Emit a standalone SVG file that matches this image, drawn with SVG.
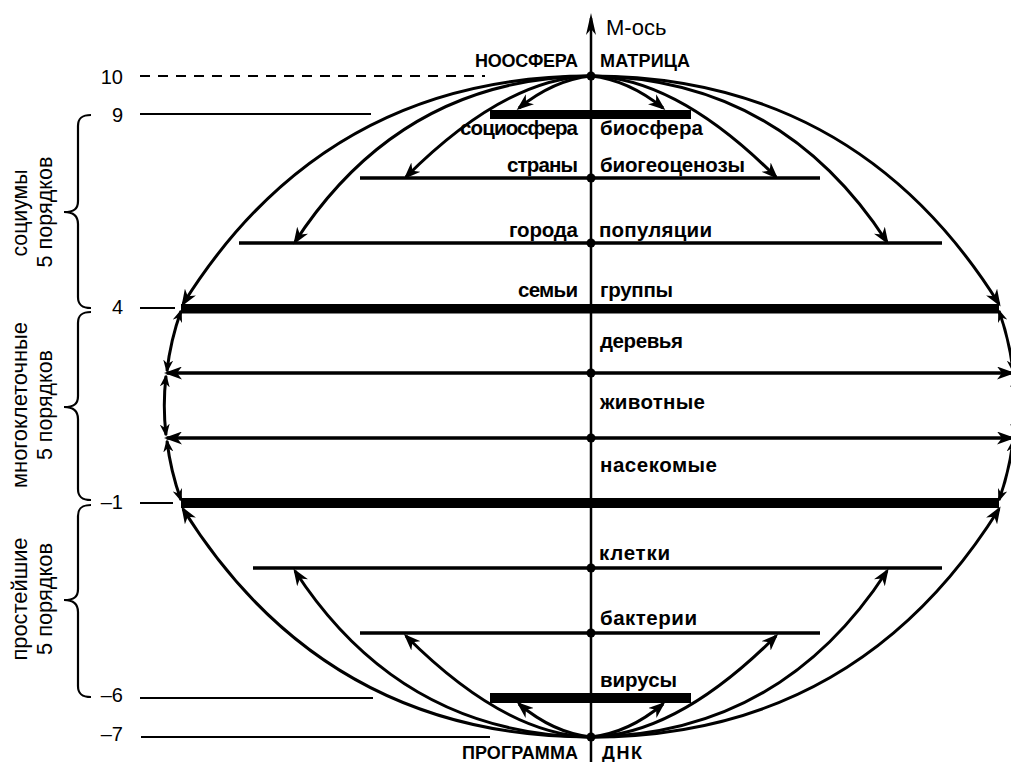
<svg xmlns="http://www.w3.org/2000/svg" width="1011" height="762" viewBox="0 0 1011 762">
<style>
.lbl{font-family:"Liberation Sans",Arial,sans-serif;font-weight:bold;font-size:20.5px;fill:#000}
.cap{font-family:"Liberation Sans",Arial,sans-serif;font-weight:bold;font-size:18px;fill:#000}
.num{font-family:"Liberation Sans",Arial,sans-serif;font-size:20px;fill:#000;text-anchor:end}
.side{font-family:"Liberation Sans",Arial,sans-serif;font-size:21.5px;fill:#000;text-anchor:middle}
.axis{font-family:"Liberation Sans",Arial,sans-serif;font-size:22px;fill:#000}
.tick{stroke:#000;stroke-width:2;fill:none}
.lvl{stroke:#000;stroke-width:3.5;fill:none}
.bar{fill:#000}
.crv{stroke:#000;stroke-width:3;fill:none;marker-end:url(#ah)}
.sd{stroke:#000;stroke-width:3;fill:none;marker-start:url(#ahs);marker-end:url(#ahs)}
.hz{stroke:#000;stroke-width:3.5;fill:none;marker-start:url(#ahh);marker-end:url(#ahh)}
.brace{stroke:#000;stroke-width:2.2;fill:none}
.dot{fill:#000}
</style>
<defs>
<marker id="ah" viewBox="0 0 17 13" markerWidth="17" markerHeight="13" refX="14" refY="6.5" orient="auto" markerUnits="userSpaceOnUse"><path d="M0,0 L17,6.5 L0,13 L5,6.5 Z" fill="#000"/></marker>
<marker id="ahh" viewBox="0 0 18 13" markerWidth="18" markerHeight="13" refX="15" refY="6.5" orient="auto-start-reverse" markerUnits="userSpaceOnUse"><path d="M0,0 L18,6.5 L0,13 L5,6.5 Z" fill="#000"/></marker>
<marker id="ahs" viewBox="0 0 13 10" markerWidth="13" markerHeight="10" refX="11" refY="5" orient="auto-start-reverse" markerUnits="userSpaceOnUse"><path d="M0,0 L13,5 L0,10 L4,5 Z" fill="#000"/></marker>
<marker id="axh" viewBox="0 0 22 10" markerWidth="22" markerHeight="10" refX="17" refY="5" orient="auto" markerUnits="userSpaceOnUse"><path d="M0,0 L22,5 L0,10 L6,5 Z" fill="#000"/></marker>
</defs>
<rect width="1011" height="762" fill="#fff"/>

<g id="connectors">
<path class="crv" d="M591,76 Q325.5,76 183,304"/>
<path class="crv" d="M591,76 Q401.5,78 295,242"/>
<path class="crv" d="M591,76 Q505,78 406,177"/>
<path class="crv" d="M591,76 Q553.6,80 519,108"/>
<path class="crv" d="M591,76 Q856.5,76 999,304"/>
<path class="crv" d="M591,76 Q780.5,78 887,242"/>
<path class="crv" d="M591,76 Q677,78 776,177"/>
<path class="crv" d="M591,76 Q628.4,80 663,108"/>
<path class="crv" d="M591,737 Q325.5,737 183,509"/>
<path class="crv" d="M591,737 Q401.5,735 295,571"/>
<path class="crv" d="M591,737 Q505,735 406,636"/>
<path class="crv" d="M591,737 Q553.6,733 519,704"/>
<path class="crv" d="M591,737 Q856.5,737 999,509"/>
<path class="crv" d="M591,737 Q780.5,735 887,571"/>
<path class="crv" d="M591,737 Q677,735 776,636"/>
<path class="crv" d="M591,737 Q628.4,733 663,704"/>
<path class="sd" d="M181,311 A425,331 0 0 0 167,371"/>
<path class="sd" d="M166,376 A425,331 0 0 0 166,435"/>
<path class="sd" d="M167,441 A425,331 0 0 0 181,500"/>
<path class="sd" d="M999,311 A425,331 0 0 1 1013,371"/>
<path class="sd" d="M1014,376 A425,331 0 0 1 1014,435"/>
<path class="sd" d="M1013,441 A425,331 0 0 1 999,500"/>
<path class="hz" d="M167,373 L1012,373"/>
<path class="hz" d="M167,438 L1012,438"/>
<line x1="591" y1="762" x2="591" y2="18" stroke="#000" stroke-width="2.5" marker-end="url(#axh)"/>
</g>

<g id="scale">
<line class="tick" x1="140" y1="76" x2="485" y2="76" stroke-dasharray="10 8"/>
<line class="tick" x1="140" y1="114" x2="371" y2="114"/>
<line class="tick" x1="140" y1="308" x2="175" y2="308"/>
<line class="tick" x1="140" y1="503" x2="173" y2="503"/>
<line class="tick" x1="140" y1="698" x2="373" y2="698"/>
<line class="tick" x1="141" y1="737" x2="490" y2="737"/>
<text class="num" x="123" y="84">10</text>
<text class="num" x="123" y="122">9</text>
<text class="num" x="123" y="314">4</text>
<text class="num" x="123" y="509">–1</text>
<text class="num" x="123" y="702">–6</text>
<text class="num" x="123" y="741">–7</text>
</g>

<g id="brace-socium">
<path class="brace" d="M91,115 C82,115 78,118 78,126 L78,201 C78,209 74,212 64,212 C74,212 78,216 78,224 L78,297 C78,305 82,308 91,308"/>
<text class="side" transform="translate(27,213) rotate(-90)" textLength="87" lengthAdjust="spacingAndGlyphs">социумы</text>
<text class="side" transform="translate(52,212) rotate(-90)" textLength="111" lengthAdjust="spacingAndGlyphs">5 порядков</text>
</g>
<g id="brace-multicell">
<path class="brace" d="M91,312 C82,312 78,315 78,323 L78,396 C78,404 74,407 64,407 C74,407 78,411 78,419 L78,489 C78,497 82,500 91,500"/>
<text class="side" transform="translate(27,405) rotate(-90)" textLength="166" lengthAdjust="spacingAndGlyphs">многоклеточные</text>
<text class="side" transform="translate(52,405) rotate(-90)" textLength="110" lengthAdjust="spacingAndGlyphs">5 порядков</text>
</g>
<g id="brace-protozoa">
<path class="brace" d="M91,505 C82,505 78,508 78,516 L78,589 C78,597 74,600 64,600 C74,600 78,604 78,612 L78,686 C78,694 82,697 91,697"/>
<text class="side" transform="translate(27,599) rotate(-90)" textLength="123" lengthAdjust="spacingAndGlyphs">простейшие</text>
<text class="side" transform="translate(52,599) rotate(-90)" textLength="112" lengthAdjust="spacingAndGlyphs">5 порядков</text>
</g>

<g id="axis-label"><text class="axis" x="606" y="35">М-ось</text></g>

<g id="level-top">
<circle class="dot" cx="591" cy="76" r="4.5"/>
<text class="cap" x="475" y="67" textLength="103">НООСФЕРА</text>
<text class="cap" x="600" y="67" textLength="90">МАТРИЦА</text>
</g>
<g id="level-biosphere">
<rect class="bar" x="490" y="110" width="201" height="9"/>
<text class="lbl" x="460" y="135" textLength="118">социосфера</text>
<text class="lbl" x="600" y="135" textLength="103">биосфера</text>
</g>
<g id="level-countries">
<line class="lvl" x1="360" y1="178" x2="820" y2="178"/>
<circle class="dot" cx="591" cy="178" r="4.5"/>
<text class="lbl" x="507" y="172" textLength="71">страны</text>
<text class="lbl" x="600" y="172" textLength="145">биогеоценозы</text>
</g>
<g id="level-cities">
<line class="lvl" x1="239" y1="243" x2="942" y2="243"/>
<circle class="dot" cx="591" cy="243" r="4.5"/>
<text class="lbl" x="509" y="237" textLength="69">города</text>
<text class="lbl" x="599" y="237" textLength="113">популяции</text>
</g>
<g id="level-families">
<rect class="bar" x="181" y="304" width="818" height="9.5"/>
<text class="lbl" x="518" y="297" textLength="60">семьи</text>
<text class="lbl" x="600" y="297" textLength="73">группы</text>
</g>
<g id="level-trees">
<circle class="dot" cx="591" cy="373" r="4.5"/>
<text class="lbl" x="600" y="348" textLength="83">деревья</text>
</g>
<g id="level-animals">
<circle class="dot" cx="591" cy="438" r="4.5"/>
<text class="lbl" x="600" y="409" textLength="105">животные</text>
</g>
<g id="level-insects">
<rect class="bar" x="181" y="498" width="818" height="10"/>
<text class="lbl" x="600" y="472" textLength="117">насекомые</text>
</g>
<g id="level-cells">
<line class="lvl" x1="253" y1="568" x2="942" y2="568"/>
<circle class="dot" cx="591" cy="568" r="4.5"/>
<text class="lbl" x="599" y="560" textLength="71">клетки</text>
</g>
<g id="level-bacteria">
<line class="lvl" x1="360" y1="633" x2="820" y2="633"/>
<circle class="dot" cx="591" cy="633" r="4.5"/>
<text class="lbl" x="600" y="625" textLength="97">бактерии</text>
</g>
<g id="level-viruses">
<rect class="bar" x="490" y="693" width="201" height="10"/>
<text class="lbl" x="600" y="687" textLength="77">вирусы</text>
</g>
<g id="level-bottom">
<circle class="dot" cx="591" cy="737" r="4.5"/>
<text class="cap" x="462" y="759" textLength="116">ПРОГРАММА</text>
<text class="cap" x="602" y="759" textLength="40">ДНК</text>
</g>
</svg>
